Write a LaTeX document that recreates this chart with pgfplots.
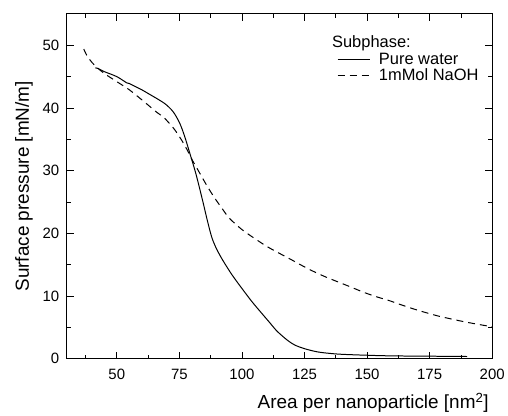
\documentclass[border=0pt]{standalone}
\usepackage{pgfplots}
\pgfplotsset{compat=1.18}
\usepackage{fontspec}
\setmainfont{Liberation Sans}
\begin{document}
\begin{tikzpicture}
\begin{axis}[
  scale only axis,
  width=427pt, height=346pt,
  at={(0,0)}, anchor=south west,
  xmin=30, xmax=200, ymin=0, ymax=55,
  xtick={50,75,100,125,150,175,200},
  ytick={0,10,20,30,40,50},
  minor xtick={37.5,62.5,87.5,112.5,137.5,162.5,187.5},
  minor ytick={5,15,25,35,45},
  tick align=inside,
  major tick length=7pt,
  minor tick length=4pt,
  tick style={black, line width=0.8pt},
  axis line style={line width=1pt},
  /pgf/number format/assume math mode=true,
  ticklabel style={font=\fontsize{15}{18}\selectfont},
  xticklabel style={yshift=-7pt},
  yticklabel style={xshift=-4pt},
  xlabel={Area per nanoparticle [nm\textsuperscript{2}]},
  ylabel={Surface pressure [mN/m]},
  label style={font=\fontsize{19}{22}\selectfont},
  xlabel style={at={(axis description cs:1,0)}, anchor=north east, yshift=-31pt, xshift=0pt},
  ylabel style={yshift=3pt},
  legend style={draw=none, fill=none, at={(axis description cs:0.635,0.94)}, anchor=north west,
    font=\fontsize{16.5}{20}\selectfont, row sep=1.5pt, column sep=8pt, inner sep=0pt,
    nodes={inner sep=1pt}},
  legend cell align=left,
  legend image code/.code={\draw[#1] (0pt,0pt) -- (32pt,0pt);},
]
\addlegendimage{empty legend}
\addlegendentry{\hspace*{-47pt}Subphase:}
\addplot[black, line width=1pt, smooth] coordinates {
(41.4,46.4) (42.5,46.3) (45,45.8) (50,45.0) (54,44.0) (55,43.9) (57,43.5) (60,42.9)
(63,42.2) (66,41.5) (69.5,40.6) (72.5,39.4) (75,37.7) (77,35.6) (79,33.0) (81.6,29.5) (84.3,25.2)
(86.2,22.0) (88,19.3) (90,17.4) (92.5,15.6) (96,13.4) (100,11.2)
(104,9.1) (108,7.2) (111,5.8) (114,4.4) (118,3.0) (121,2.2) (125,1.6) (130,1.1)
(135,0.85) (140,0.7) (150,0.55) (160,0.45) (175,0.4) (190,0.35)
};
\addlegendentry{Pure water}
\addplot[black, line width=1pt, dash pattern=on 7pt off 5pt, smooth] coordinates {
(36.8,49.4) (38,48.4) (40,47.3) (42,46.5) (45,45.5) (50,44.2) (55,42.9) (60,41.3)
(63,40.3) (66,39.3) (69,38.4) (73,36.6) (76,34.8) (78,33.4) (80,31.8) (83,29.7)
(86,27.6) (89,25.7) (92,24.0) (95,22.4) (100,20.6) (105,19.2) (110,17.9) (115,16.8)
(118.8,16.0) (123.8,14.9) (128.7,13.9) (133.7,13.0) (138.7,12.2) (143.7,11.4)
(148.6,10.6) (153.6,9.9) (158.6,9.3) (163.6,8.6) (168.5,7.95) (173.5,7.35)
(178.5,6.8) (183.5,6.35) (188.4,5.93) (193.4,5.55) (198.4,5.2) (200,5.1)
};
\addlegendentry{1mMol NaOH}
\end{axis}
\path[use as bounding box] (-67pt,-54pt) rectangle (441pt,360pt);
\end{tikzpicture}
\end{document}
